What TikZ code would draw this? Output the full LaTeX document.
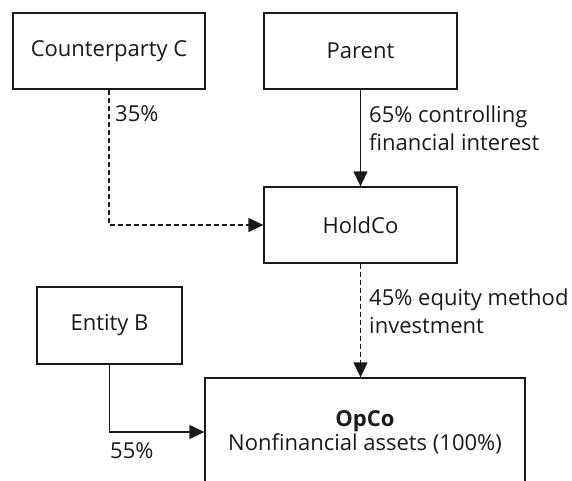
\documentclass[tikz,border=0pt]{standalone}
\usepackage{fontspec}
\setmainfont{Open Sans}
\usetikzlibrary{arrows.meta}
\definecolor{linec}{HTML}{1A1A1A}
\definecolor{txt}{HTML}{1A1A1A}
\begin{document}
\begin{tikzpicture}[x=1pt,y=-1pt,
  box/.style={draw=linec, line width=1.3pt, fill=white, inner sep=0pt,
    font=\fontsize{22}{28}\selectfont, text=txt},
  lbl/.style={inner sep=0pt, font=\fontsize{22}{28}\selectfont, text=txt, align=left},
  conn/.style={draw=linec, line width=1.3pt, -{Triangle[length=15pt,width=14pt]}},
  dsh/.style={conn, dash pattern=on 5pt off 3pt}]
\clip (0,0) rectangle (572,481);
\node[box, minimum width=192pt, minimum height=76pt] (cp) at (109,51) {Counterparty C};
\node[box, minimum width=193pt, minimum height=76pt] (parent) at (360.5,51) {Parent};
\node[box, minimum width=193pt, minimum height=76pt] (holdco) at (360.5,225) {HoldCo};
\node[box, minimum width=145pt, minimum height=77pt] (entb) at (109.5,325.5) {Entity B};
\node[box, minimum width=320pt, minimum height=108pt, align=center,
  font=\fontsize{22}{24}\selectfont] (opco) at (365,432)
  {\textbf{OpCo}\\Nonfinancial assets (100\%)};
\draw[conn] (parent) -- (holdco);
\draw[dsh] (cp.south) |- (holdco.west);
\draw[dsh] (holdco.south) -- (holdco.south |- opco.north);
\draw[conn] (entb.south) |- (opco.west);
\node[lbl, anchor=base west] (l35) at (115,122) {35\%};
\node[lbl, anchor=base west] (l65) at (369,150) {65\% controlling\\financial interest};
\node[lbl, anchor=base west] (l45) at (369,333) {45\% equity method\\investment};
\node[lbl, anchor=base west] (l55) at (110,458) {55\%};
\end{tikzpicture}
\end{document}
